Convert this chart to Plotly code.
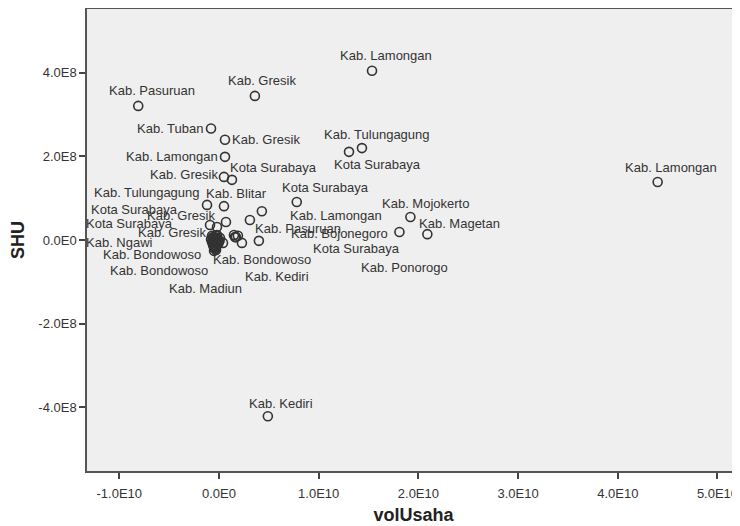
import plotly.graph_objects as go

# ---- data (volUsaha in rupiah, SHU in rupiah) ----
kabupaten = [
    "Kab. Lamongan", "Kab. Gresik", "Kab. Pasuruan", "Kab. Tuban", "Kab. Gresik",
    "Kab. Tulungagung", "Kota Surabaya", "Kab. Lamongan", "Kab. Gresik", "Kota Surabaya",
    "Kab. Tulungagung", "Kab. Blitar", "Kota Surabaya", "Kab. Lamongan", "Kab. Pasuruan",
    "Kab. Mojokerto", "Kab. Bojonegoro", "Kab. Magetan", "Kab. Lamongan", "Kab. Kediri",
    "Kab. Kediri", "Kab. Bondowoso", "Kota Surabaya", "Kab. Ponorogo", "Kab. Madiun",
    "Kab. Bondowoso", "Kab. Bondowoso", "Kab. Ngawi", "Kab. Gresik", "Kota Surabaya",
    "Kab. Gresik", "Kota Surabaya",
    "", "", "", "", "", "", "", "", "", "", "", "", "", "", "", "", "",
    "", "", "", "", "", "", "", "", "", "", "", "", "", "", "",
]
vol_usaha = [
    1.535e10, 0.36e10, -0.81e10, -0.08e10, 0.06e10,
    1.434e10, 1.304e10, 0.06e10, 0.05e10, 0.13e10,
    -0.12e10, 0.05e10, 0.78e10, 0.43e10, 0.31e10,
    1.92e10, 1.81e10, 2.09e10, 4.40e10, 0.49e10,
    0.40e10, 0.23e10, 0.19e10, 0.16e10, -0.03e10,
    -0.05e10, -0.05e10, -0.07e10, -0.08e10, -0.09e10,
    -0.02e10, 0.07e10,
    -0.06e10, -0.03e10, -0.01e10, -0.05e10, -0.02e10, -0.04e10, -0.01e10, -0.06e10,
    -0.03e10, 0.00e10, 0.01e10, -0.07e10, -0.02e10, -0.04e10, 0.04e10, 0.15e10, 0.17e10,
    -0.045e10, -0.035e10, -0.025e10, -0.055e10, -0.015e10, -0.065e10, -0.04e10, -0.03e10,
    -0.05e10, -0.02e10, -0.06e10, -0.035e10, -0.045e10, -0.025e10, 0.005e10,
]
shu = [
    4.05e8, 3.45e8, 3.21e8, 2.67e8, 2.40e8,
    2.20e8, 2.11e8, 1.99e8, 1.51e8, 1.44e8,
    0.84e8, 0.81e8, 0.91e8, 0.69e8, 0.48e8,
    0.55e8, 0.19e8, 0.14e8, 1.39e8, -4.22e8,
    -0.02e8, -0.07e8, 0.10e8, 0.07e8, -0.24e8,
    -0.19e8, -0.26e8, -0.05e8, 0.02e8, 0.36e8,
    0.31e8, 0.43e8,
    0.07e8, 0.05e8, 0.02e8, 0.00e8, -0.02e8, -0.07e8, -0.10e8, -0.12e8,
    -0.14e8, -0.05e8, 0.05e8, 0.10e8, 0.12e8, -0.17e8, -0.07e8, 0.12e8, 0.07e8,
    0.04e8, -0.04e8, -0.09e8, -0.03e8, -0.06e8, -0.01e8, -0.13e8, -0.17e8,
    -0.08e8, 0.09e8, 0.05e8, -0.21e8, -0.15e8, 0.01e8, -0.02e8,
]
x_tick_vals = [-1e10, 0, 1e10, 2e10, 3e10, 4e10, 5e10]
x_tick_text = ["-1.0E10", "0.0E0", "1.0E10", "2.0E10", "3.0E10", "4.0E10", "5.0E10"]
y_tick_vals = [-4e8, -2e8, 0, 2e8, 4e8]
y_tick_text = ["-4.0E8", "-2.0E8", "0.0E0", "2.0E8", "4.0E8"]

# ---- label placement (pixel offsets from each labelled point; style only) ----
label_offsets = [
    (14, -15, "center"), (7, -15, "center"), (14, -15, "center"), (-5, 0, "right"), (5, 0, "left"),
    (15, -14, "center"), (28, 13, "center"), (-5, 0, "right"), (-4, -2, "right"), (-4, -12, "left"),
    (-5, -12, "right"), (13, -13, "center"), (29, -14, "center"), (26, 4, "left"), (3, 9, "left"),
    (15, -14, "center"), (-9, 1, "right"), (-10, -11, "left"), (13, -14, "center"), (13, -13, "center"),
    (18, 36, "center"), (20, 17, "center"), (119, 13, "center"), (170, 30, "center"), (-11, 38, "center"),
    (-11, 7, "right"), (-4, 20, "right"), (-57, 0, "right"), (-3, -7, "right"), (-35, -1, "right"),
    (0, -12, "right"), (-46, -13, "right"),
]

FONT = "Arial, Liberation Sans, sans-serif"

fig = go.Figure()
fig.add_trace(go.Scatter(
    x=vol_usaha, y=shu, mode="markers",
    marker=dict(symbol="circle-open", size=9, color="#333333", line=dict(width=1.6, color="#333333")),
    hovertext=kabupaten, showlegend=False,
))

annotations = []
for i, (dx, dy, anchor) in enumerate(label_offsets):
    annotations.append(dict(
        x=vol_usaha[i], y=shu[i], xref="x", yref="y", text=kabupaten[i],
        showarrow=False, xanchor=anchor, yanchor="middle",
        xshift=dx, yshift=-dy,
        font=dict(family=FONT, size=13, color="#333333"),
    ))

axis_common = dict(
    showline=True, linecolor="#555555", linewidth=1.5, mirror=True,
    ticks="outside", ticklen=6, tickcolor="#444444", tickwidth=1.5,
    showgrid=False, zeroline=False,
    tickfont=dict(family=FONT, size=13, color="#333333"),
)

fig.update_layout(
    width=740, height=526,
    margin=dict(l=79, r=8, t=1, b=63),
    paper_bgcolor="white", plot_bgcolor="#EFEFEF",
    annotations=annotations,
    xaxis=dict(
        range=[-1.324e10, 5.226e10], tickvals=x_tick_vals, ticktext=x_tick_text,
        title=dict(text="volUsaha", font=dict(family=FONT, size=18, color="#222222", weight="bold"), standoff=8),
        ticklabelstandoff=4, automargin=False,
        **axis_common,
    ),
    yaxis=dict(
        range=[-5.53e8, 5.53e8], tickvals=y_tick_vals, ticktext=y_tick_text,
        title=dict(text="SHU", font=dict(family=FONT, size=18, color="#222222", weight="bold"), standoff=12),
        automargin=False,
        **axis_common,
    ),
)

fig.write_html("out.html")
